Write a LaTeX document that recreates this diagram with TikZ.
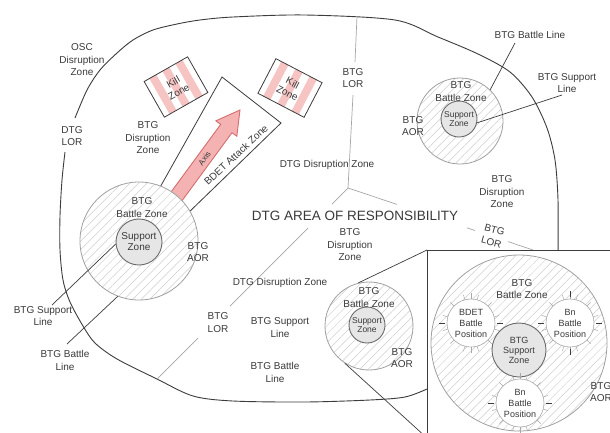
\documentclass[tikz,border=0pt]{standalone}
\usepackage{fontspec}
\setmainfont{Liberation Sans}
\usetikzlibrary{patterns.meta,calc}
\definecolor{txtc}{HTML}{3A3A3A}
\definecolor{dkc}{HTML}{3C3C3C}
\definecolor{ltc}{HTML}{A6A6A6}
\definecolor{bzc}{HTML}{A0A0A0}
\definecolor{hatchc}{HTML}{CFCFCF}
\definecolor{szc}{HTML}{6A6A6A}
\definecolor{szf}{HTML}{E6E6E6}
\definecolor{killc}{HTML}{F7C4C4}
\definecolor{arrf}{HTML}{F4B2B2}
\definecolor{arrd}{HTML}{D26E6E}
\definecolor{bpc}{HTML}{A8A8A8}
\begin{document}
\begin{tikzpicture}[x=1pt,y=-1pt,
  lbl/.style={font=\fontsize{10}{12.5}\selectfont, text=txtc, align=center, inner sep=0pt},
  bzone/.style={circle, draw=bzc, line width=0.8pt, preaction={fill=white},
    pattern={Lines[angle=45,distance=6pt,line width=0.5pt]}, pattern color=hatchc, inner sep=0pt},
  szone/.style={circle, draw=szc, fill=szf, line width=0.9pt, inner sep=0pt, text=txtc, align=center},
  bpos/.style={circle, draw=bpc, fill=white, line width=0.6pt, inner sep=0pt, text=txtc, align=center,
    font=\fontsize{9}{11}\selectfont, minimum size=48pt},
  conn/.style={draw=dkc, line width=0.7pt},
  bound/.style={draw=dkc, line width=0.9pt},
  dtgline/.style={draw=ltc, line width=0.7pt},
  lttick/.style={draw=bpc, line width=0.5pt},
  dktick/.style={draw=dkc, line width=0.8pt},
]
\useasboundingbox[fill=white] (0,0) rectangle (610,432);

% outer DTG boundary
\draw[bound] plot[smooth] coordinates {(75,118) (87,90) (100,70) (117,53) (133,40) (153,30) (177,24) (200,20) (233,17) (305,15) (395,20) (438,37) (478,54) (510,72) (532,97) (547,128) (555,160) (558,200) (558,255)};
\draw[bound] plot[smooth] coordinates {(427,389) (405,397) (370,400) (305,402) (233,401) (193,396) (157,379) (117,359) (95,343) (83,326) (70,302) (63,280) (60,250) (60,216) (62,180) (65,152)};

% DTG internal boundaries
\coordinate (J) at (348,188);
\draw[dtgline] (J) -- (353,95);
\draw[dtgline] (355,62) -- (357,16);
\draw[dtgline] (J) -- (397,204.4);
\draw[dtgline] (467,227.8) -- (475,230.5);
\draw[dtgline] (508,241.6) -- (533,250);
\draw[dtgline] (J) -- (332,204);
\draw[dtgline] (308,228) -- (230,306);
\draw[dtgline] (198,338) -- (157,379);

% attack zone
\filldraw[fill=white, draw=dkc, line width=0.8pt] (222,77) -- (281,123) -- (185,216) -- (154,198) -- cycle;
\begin{scope}[shift={(179,193)}, rotate=53.7]
  \filldraw[fill=arrf, draw=arrd, line width=0.9pt] (-12,-7) -- (80,-7) -- (80,-13) -- (103,0) -- (80,13) -- (80,7) -- (-12,7) -- cycle;
  \node[lbl, font=\fontsize{8}{9}\selectfont, rotate=53.7] (axis) at (43,0) {Axis};
\end{scope}
\node[lbl, rotate=43] (atk) at (236,155) {BDET Attack Zone};

% kill zones
\begin{scope}[shift={(176,87)}, rotate=29.6]
  \fill[white] (-25,-20.5) rectangle (25,20.5);
  \fill[killc] (-19,-20.5) rectangle (-11,20.5);
  \fill[killc] (-4,-20.5) rectangle (4,20.5);
  \fill[killc] (11,-20.5) rectangle (19,20.5);
  \draw[dkc, line width=0.8pt] (-25,-20.5) rectangle (25,20.5);
  \node[lbl, font=\fontsize{10}{11.5}\selectfont, rotate=29.6] (kz1) at (0,0) {Kill\\Zone};
\end{scope}
\begin{scope}[shift={(290,88)}, rotate=-27.5]
  \fill[white] (-26,-19.5) rectangle (26,19.5);
  \fill[killc] (-20,-19.5) rectangle (-12,19.5);
  \fill[killc] (-4,-19.5) rectangle (4,19.5);
  \fill[killc] (12,-19.5) rectangle (20,19.5);
  \draw[dkc, line width=0.8pt] (-26,-19.5) rectangle (26,19.5);
  \node[lbl, font=\fontsize{10}{11.5}\selectfont, rotate=-27.5] (kz2) at (0,0) {Kill\\Zone};
\end{scope}

% left BTG
\node[bzone, minimum size=118pt] (lbz) at (139,241) {};
\node[szone, minimum size=46pt, font=\fontsize{10}{11}\selectfont] (lsz) at (139,242) {Support\\Zone};
% top-right BTG
\node[bzone, minimum size=86pt] (tbz) at (460,121) {};
\node[szone, minimum size=36pt, font=\fontsize{8.5}{9}\selectfont] (tsz) at (459,119) {Support\\Zone};
% lower BTG
\node[bzone, minimum size=88pt] (sbz) at (369,326) {};
\node[szone, minimum size=36pt, font=\fontsize{8.5}{9.5}\selectfont] (ssz) at (367,325) {Support\\Zone};

% connector lines
\coordinate (lslEnd) at (52,305);
\coordinate (lblEnd) at (67,344);
\coordinate (tblEnd) at (515,43);
\coordinate (tslEnd) at (562,95);
\draw[conn] (lsz.185) -- (lslEnd);
\draw[conn] (lbz.249) -- (lblEnd);
\draw[conn] (tbz.46) -- (tblEnd);
\draw[conn] (tsz.-12) -- (tslEnd);

% zoom lines
\coordinate (insTL) at (427,250);
\coordinate (insBL) at (427,438);
\draw[conn] (sbz.104) -- (insTL);
\draw[conn] (sbz.237) -- (insBL);

% inset
\filldraw[fill=white, draw=dkc, line width=0.9pt] (insTL) rectangle (620,445);
\node[bzone, minimum size=176pt] (ibz) at (519,343) {};
\node[szone, minimum size=54pt, font=\fontsize{9}{10}\selectfont] (isz) at (519,350) {BTG\\Support\\Zone};
\node[bpos] (bp1) at (471,323) {BDET\\Battle\\Position};
\node[bpos] (bp2) at (570,323) {Bn\\Battle\\Position};
\node[bpos] (bp3) at (520,403) {Bn\\Battle\\Position};
\foreach \b in {bp1,bp2,bp3}{
  \foreach \a in {15,45,...,345}{
    \draw[lttick] (\b.\a) -- ($(\b.center)!1.2!(\b.\a)$);
  }
  \foreach \a in {0,180}{
    \draw[dktick] ($(\b.center)!1.08!(\b.\a)$) -- ($(\b.center)!1.3!(\b.\a)$);
  }
  \foreach \a in {90,270}{
    \draw[lttick] ($(\b.center)!1.0!(\b.\a)$) -- ($(\b.center)!1.25!(\b.\a)$);
  }
}
\draw[dktick] ($(bp2.center)!1.08!(bp2.90)$) -- ($(bp2.center)!1.3!(bp2.90)$);
\draw[dktick] ($(bp2.center)!1.08!(bp2.270)$) -- ($(bp2.center)!1.3!(bp2.270)$);

% labels
\node[lbl] (osc) at (82,60) {OSC\\Disruption\\Zone};
\node[lbl] (dtglorL) at (72,136) {DTG\\LOR};
\node[lbl] (btgdzL) at (148,138) {BTG\\Disruption\\Zone};
\node[lbl] (btglorT) at (353,78) {BTG\\LOR};
\node[lbl] (dtgdzT) at (327,165) {DTG Disruption Zone};
\node[lbl] (tbzl) at (461,91.5) {BTG\\Battle Zone};
\node[lbl] (taor) at (413,126) {BTG\\AOR};
\node[lbl] (tbll) at (530,35) {BTG Battle Line};
\node[lbl] (tsll) at (567,83) {BTG Support\\Line};
\node[lbl] (btgdzR) at (502,192) {BTG\\Disruption\\Zone};
\node[lbl, font=\fontsize{13.5}{15}\selectfont] (title) at (355,216) {DTG AREA OF RESPONSIBILITY};
\node[lbl] (btgdzM) at (350,245) {BTG\\Disruption\\Zone};
\node[lbl, rotate=-15] (btglorR) at (493,236) {BTG\\LOR};
\node[lbl] (lbzl) at (142,207.5) {BTG\\Battle Zone};
\node[lbl] (laor) at (198,252) {BTG\\AOR};
\node[lbl] (lsll) at (43,316) {BTG Support\\Line};
\node[lbl] (lbll) at (65,360.5) {BTG Battle\\Line};
\node[lbl] (dtgdzB) at (280,283) {DTG Disruption Zone};
\node[lbl] (btglorB) at (218,322.5) {BTG\\LOR};
\node[lbl] (msll) at (280,327.5) {BTG Support\\Line};
\node[lbl] (mbll) at (275,372.5) {BTG Battle\\Line};
\node[lbl] (sbzl) at (369,297.5) {BTG\\Battle Zone};
\node[lbl] (saor) at (402,358) {BTG\\AOR};
\node[lbl] (ibzl) at (522,289) {BTG\\Battle Zone};
\node[lbl] (iaor) at (601,392) {BTG\\AOR};
\end{tikzpicture}
\end{document}
